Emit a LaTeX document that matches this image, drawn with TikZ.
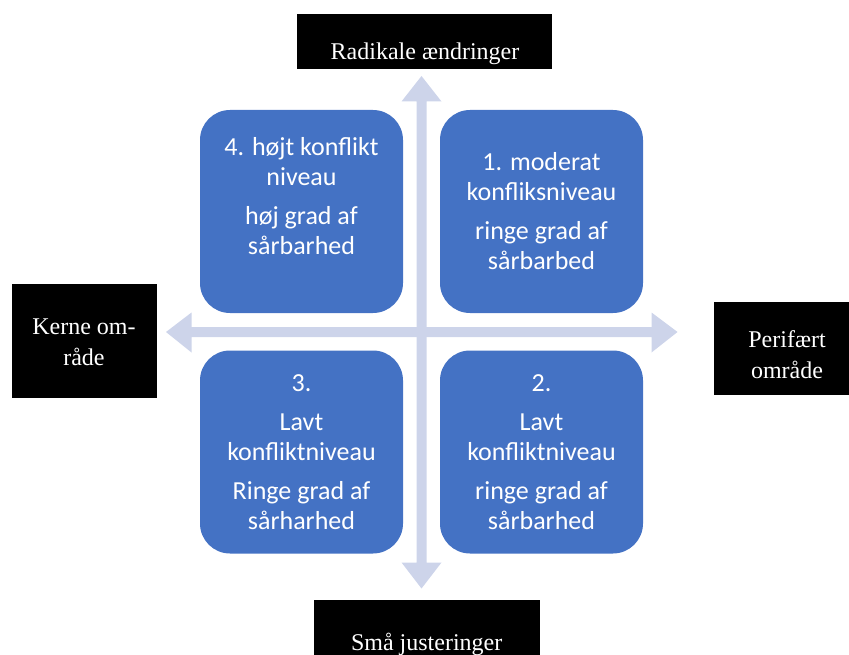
\documentclass[tikz,border=0pt]{standalone}
\usepackage{fontspec}
\setmainfont{Liberation Serif}
\newfontfamily\boxfont{Carlito}
\definecolor{quadblue}{HTML}{4472C4}
\definecolor{axiscol}{HTML}{CDD4EA}
\begin{document}
\begin{tikzpicture}[x=1pt,y=-1pt,
  quad/.style={fill=quadblue,draw=none,rounded corners=30pt,
    minimum width=203pt,minimum height=203pt,inner sep=0pt},
  quadtext/.style={text=white,align=center,inner sep=0pt,
    font=\boxfont\fontsize{26}{30}\selectfont},
  blackbox/.style={fill=black,draw=none,inner sep=0pt},
  labeltext/.style={text=white,align=center,inner sep=0pt,
    font=\fontsize{24}{31}\selectfont}]
\useasboundingbox (0,0) rectangle (849,655);

% axes: two double-headed block arrows
\fill[axiscol] (421.5,76) -- (441.5,101.5) -- (426.5,101.5) -- (426.5,562.5)
  -- (441.5,562.5) -- (421.5,588.5) -- (401.5,562.5) -- (416.5,562.5)
  -- (416.5,101.5) -- (401.5,101.5) -- cycle;
\fill[axiscol] (166,332) -- (191.5,312.5) -- (191.5,327) -- (651.5,327)
  -- (651.5,312.5) -- (677.5,332) -- (651.5,352.5) -- (651.5,337)
  -- (191.5,337) -- (191.5,352.5) -- cycle;

% quadrants
\node[quad] (q4) at (301.5,211.5) {};
\node[quad] (q1) at (541.5,211.5) {};
\node[quad] (q3) at (301.5,452) {};
\node[quad] (q2) at (541.5,452) {};

\node[quadtext] (t4) at (301.5,196) {4. højt konflikt\\niveau\\[9pt]høj grad af\\sårbarhed};
\node[quadtext] (t1) at (541.5,211) {1. moderat\\konfliksniveau\\[9pt]ringe grad af\\sårbarbed};
\node[quadtext] (t3) at (301.5,452.5) {3.\\[9pt]Lavt\\konfliktniveau\\[9pt]Ringe grad af\\sårharhed};
\node[quadtext] (t2) at (541.5,452.5) {2.\\[9pt]Lavt\\konfliktniveau\\[9pt]ringe grad af\\sårbarhed};

% axis labels
\node[blackbox,minimum width=255pt,minimum height=55pt] (top) at (424.75,41.75) {};
\node[labeltext,anchor=base] (toptext) at (425,59.5) {Radikale ændringer};

\node[blackbox,minimum width=145pt,minimum height=114pt] (left) at (84.2,340.9) {};
\node[labeltext] (lefttext) at (84,342) {Kerne om-\\råde};

\node[blackbox,minimum width=135pt,minimum height=93pt] (right) at (781.5,348.5) {};
\node[labeltext] (righttext) at (787,354.5) {Perifært\\område};

\node[blackbox,minimum width=226pt,minimum height=55pt] (bottom) at (427,627.5) {};
\node[labeltext,anchor=base] (bottomtext) at (426.7,650) {Små justeringer};
\end{tikzpicture}
\end{document}
